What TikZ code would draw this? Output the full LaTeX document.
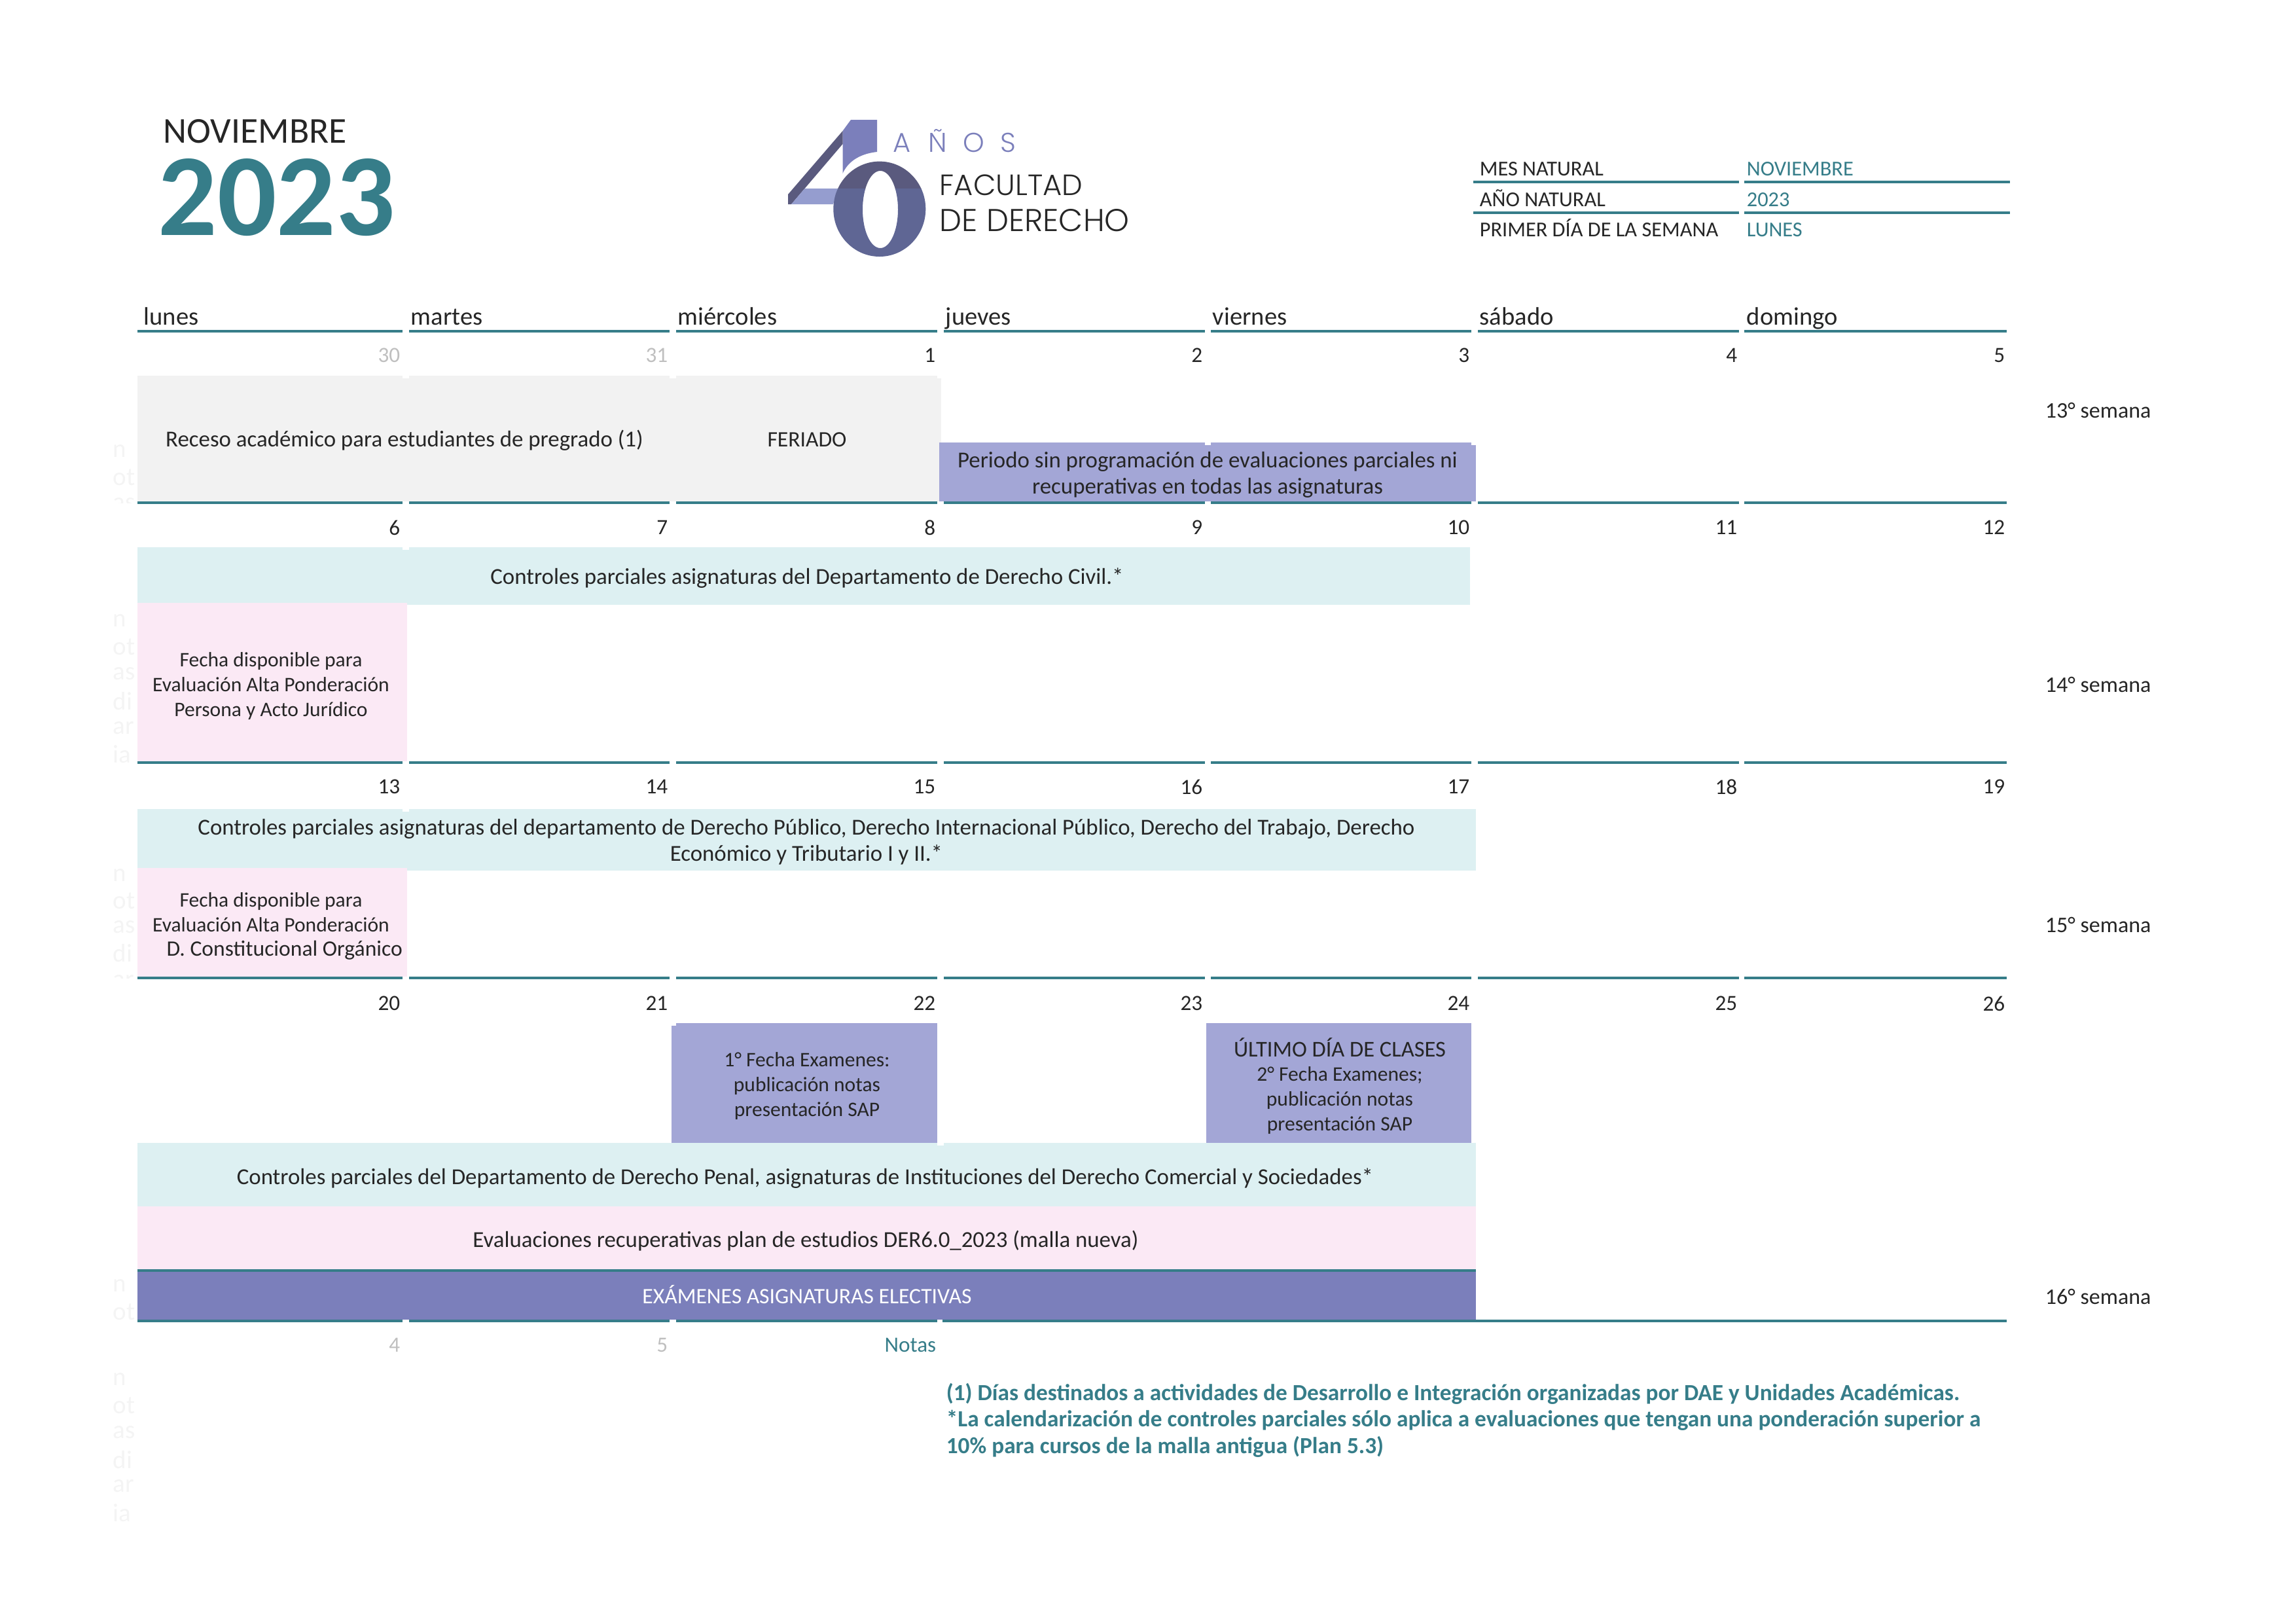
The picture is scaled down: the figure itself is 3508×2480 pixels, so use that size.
\documentclass[tikz,border=0pt]{standalone}
\usepackage{fontspec}
\setmainfont{Carlito}
\newfontfamily\logofont{Poppins}[UprightFont=* Light]
\usetikzlibrary{positioning}

\definecolor{tealcal}{HTML}{367D89}
\definecolor{grisband}{HTML}{F2F2F2}
\definecolor{lilaband}{HTML}{A3A6D6}
\definecolor{celesteband}{HTML}{DDF0F2}
\definecolor{rosaband}{HTML}{FBE9F5}
\definecolor{moradoband}{HTML}{7B7FBB}
\definecolor{textocal}{HTML}{262626}
\definecolor{numgris}{HTML}{BFBFBF}
\definecolor{fantasma}{HTML}{F4F4F4}
\definecolor{logooscuro}{HTML}{5A5A7E}
\definecolor{logomedio}{HTML}{5F6694}
\definecolor{logoclaro}{HTML}{959DCF}

\tikzset{
    regla/.style={line width=1pt,tealcal},
    base/.style={inner sep=0pt,text=textocal,font=\fontsize{8.4}{9.6}\selectfont},
    evento/.style={base,align=center},
    eventocaps/.style={base,align=center,font=\fontsize{8.1}{9.6}\selectfont},
    eventochico/.style={base,align=center,font=\fontsize{7.6}{9.1}\selectfont},
    diames/.style={base,anchor=east,font=\fontsize{8}{9}\selectfont},
    diagris/.style={diames,text=numgris},
    titulodia/.style={base,anchor=base west,font=\fontsize{9.3}{11}\selectfont},
    metadato/.style={base,anchor=base west,font=\fontsize{7.8}{9}\selectfont},
    metavalor/.style={metadato,text=tealcal},
    semana/.style={base,anchor=west,font=\fontsize{8.2}{9}\selectfont},
    nota/.style={base,anchor=west,text=tealcal,font=\fontsize{8.5}{9.6}\selectfont\bfseries},
    ghost/.style={base,anchor=west,text=fantasma,font=\fontsize{9.4}{9.6}\selectfont}
}

\newcommand{\reglafila}[1]{
    \foreach \xa/\xb in {210/615,625/1023,1033/1432,1442/1841,1850/2248,2258/2657,2665/3066}
        \draw[regla] (\xa,#1) -- (\xb,#1);
}
\newcommand{\muesca}[3]{\fill[white] (#1,#3) rectangle (#2,#3+4);}

\begin{document}
\begin{tikzpicture}[x=0.24bp,y=-0.24bp]

    \useasboundingbox (0,0) rectangle (3508,2480);

    % cabecera
    \node[base,anchor=base west,font=\fontsize{13.4}{16}\selectfont] (mes) at (249,218) {NOVIEMBRE};
    \node[base,anchor=base west,text=tealcal,font=\fontsize{43}{44}\selectfont\bfseries] (anio) at (241,359) {2023};

    % logo
    \fill[moradoband] (1300,183) -- (1340,183) -- (1340,232) .. controls (1312,235) and (1295,248) .. (1287.5,265) -- (1287.5,200) -- cycle;
    \fill[logooscuro] (1287.5,200) -- (1287.5,220) -- (1209,312) -- (1204,312) -- (1204,297) -- cycle;
    \fill[logoclaro] (1229.5,288) -- (1280,288) -- (1273,312) -- (1209,312) -- cycle;
    \begin{scope}
        \clip (1260,240) rectangle (1430,288);
        \fill[logooscuro,even odd rule] (1343.8,319.3) ellipse (70.5 and 72.7) (1345,320) ellipse (27 and 59);
    \end{scope}
    \begin{scope}
        \clip (1260,288) rectangle (1430,400);
        \fill[logomedio,even odd rule] (1343.8,319.3) ellipse (70.5 and 72.7) (1345,320) ellipse (27 and 59);
    \end{scope}
    \foreach \xl/\letra in {1378/A,1432.6/Ñ,1487.5/O,1540.6/S}
        \node[inner sep=0pt,anchor=base,text=moradoband,font=\logofont\fontsize{10}{10}\selectfont] (logo\letra) at (\xl,232) {\letra};
    \node[base,anchor=base west,font=\logofont\fontsize{10.8}{10}\selectfont] (facultad) at (1435,298) {FACULTAD};
    \node[base,anchor=base west,font=\logofont\fontsize{11.6}{10}\selectfont] (derecho) at (1435,353) {DE DERECHO};

    % datos del mes
    \node[metadato] (mesnat) at (2260,268) {MES NATURAL};
    \node[metavalor] (mesval) at (2668,268) {NOVIEMBRE};
    \node[metadato] (anionat) at (2260,315) {AÑO NATURAL};
    \node[metavalor] (anioval) at (2668,315) {2023};
    \node[metadato] (primer) at (2260,361) {PRIMER DÍA DE LA SEMANA};
    \node[metavalor] (primerval) at (2668,361) {LUNES};
    \draw[regla] (2251,278) -- (2657,278);
    \draw[regla] (2665,278) -- (3071,278);
    \draw[regla] (2251,325) -- (2657,325);
    \draw[regla] (2665,325) -- (3071,325);

    % texto tenue del margen
    \begin{scope}
        \clip (160,660) rectangle (210,768);
        \foreach \yy/\tx in {689/n,729/ot,770/as}
            \node[ghost] at (172,\yy) {\tx};
    \end{scope}
    \foreach \yy/\tx in {948/n,988/ot,1029/as,1071/di,1112/ar,1152/ia}
        \node[ghost] at (172,\yy) {\tx};
    \begin{scope}
        \clip (160,1310) rectangle (210,1494);
        \foreach \yy/\tx in {1337/n,1376/ot,1416/as,1456/di,1499/ar}
            \node[ghost] at (172,\yy) {\tx};
    \end{scope}
    \foreach \yy/\tx in {1964/n,2004/ot,2107/n,2147/ot,2188/as,2230/di,2270/ar,2311/ia}
        \node[ghost] at (172,\yy) {\tx};

    % bandas
    \fill[grisband] (210,574) rectangle (1438,766);
    \fill[lilaband] (1435,676) rectangle (2255,766);
    \fill[celesteband] (210,836) rectangle (2246,924);
    \fill[rosaband] (210,921) rectangle (622,1163);
    \fill[celesteband] (210,1236) rectangle (2255,1330);
    \fill[rosaband] (210,1326) rectangle (622,1492);
    \fill[lilaband] (1026,1563) rectangle (1432,1746);
    \fill[lilaband] (1843,1563) rectangle (2248,1746);
    \fill[celesteband] (210,1746) rectangle (2255,1843);
    \fill[rosaband] (210,1843) rectangle (2255,1940);
    \fill[moradoband] (210,1940) rectangle (2255,2016);

    % muescas
    \muesca{615}{625}{574}
    \muesca{1023}{1033}{574}
    \muesca{1432}{1438}{574}
    \muesca{1841}{1850}{676}
    \muesca{2248}{2255}{676}
    \muesca{615}{625}{836}
    \muesca{615}{625}{1236}
    \muesca{1026}{1033}{1563}
    \muesca{1432}{1442}{1746}

    % reglas
    \reglafila{506}
    \reglafila{768}
    \reglafila{1165}
    \reglafila{1494}
    \draw[regla] (210,1941) -- (2255,1941);
    \draw[regla] (210,2018) -- (615,2018);
    \draw[regla] (625,2018) -- (1023,2018);
    \draw[regla] (1033,2018) -- (1432,2018);
    \draw[regla] (1440,2018) -- (3066,2018);

    % dias de la semana
    \node[titulodia] (lunes) at (219,496) {lunes};
    \node[titulodia] (martes) at (627,496) {martes};
    \node[titulodia] (miercoles) at (1035,496) {miércoles};
    \node[titulodia] (jueves) at (1444,496) {jueves};
    \node[titulodia] (viernes) at (1852,496) {viernes};
    \node[titulodia] (sabado) at (2260,496) {sábado};
    \node[titulodia] (domingo) at (2668,496) {domingo};

    % numeros
    \node[diagris] (d30) at (612,543) {30};
    \node[diagris] (d31) at (1021,543) {31};
    \foreach \xx/\nn in {1430/1,1838/2,2246/3,2655/4,3064/5}
        \node[diames] (d\nn) at (\xx,543) {\nn};
    \foreach \xx/\nn in {612/6,1021/7,1430/8,1838/9,2246/10,2655/11,3064/12}
        \node[diames] (d\nn) at (\xx,806) {\nn};
    \foreach \xx/\nn in {612/13,1021/14,1430/15,1838/16,2246/17,2655/18,3064/19}
        \node[diames] (d\nn) at (\xx,1202) {\nn};
    \foreach \xx/\nn in {612/20,1021/21,1430/22,1838/23,2246/24,2655/25,3064/26}
        \node[diames] (d\nn) at (\xx,1533) {\nn};
    \node[diagris] (dic4) at (612,2055) {4};
    \node[diagris] (dic5) at (1021,2055) {5};
    \node[diames,text=tealcal] (notas) at (1431,2055) {Notas};

    % eventos
    \node[evento] (receso) at (618,673) {Receso académico para estudiantes de pregrado (1)};
    \node[eventocaps] (feriado) at (1233,672) {FERIADO};
    \node[evento] (periodo) at (1845,725) {Periodo sin programación de evaluaciones parciales ni\\recuperativas en todas las asignaturas};
    \node[evento] (civil) at (1233,883) {Controles parciales asignaturas del Departamento de Derecho Civil.*};
    \node[eventochico] (altauno) at (414,1048) {Fecha disponible para\\Evaluación Alta Ponderación\\Persona y Acto Jurídico};
    \node[evento] (publico) at (1232,1286) {Controles parciales asignaturas del departamento de Derecho Público, Derecho Internacional Público, Derecho del Trabajo, Derecho\\Económico y Tributario I y II.*};
    \node[eventochico] (altados) at (414,1415) {Fecha disponible para\\Evaluación Alta Ponderación\\\hspace*{10pt}{\fontsize{8.1}{9.1}\selectfont D. Constitucional Orgánico}};
    \node[eventochico] (fechauno) at (1233,1659) {1° Fecha Examenes:\\publicación notas\\presentación SAP};
    \node[eventochico] (fechados) at (2047,1659) {{\fontsize{8.3}{9.6}\selectfont ÚLTIMO DÍA DE CLASES}\\2° Fecha Examenes;\\publicación notas\\presentación SAP};
    \node[evento] (penal) at (1230,1800) {Controles parciales del Departamento de Derecho Penal, asignaturas de Instituciones del Derecho Comercial y Sociedades*};
    \node[evento] (recup) at (1231,1896) {Evaluaciones recuperativas plan de estudios DER6.0\_2023 (malla nueva)};
    \node[eventocaps,text=white] (electivas) at (1233,1978) {EXÁMENES ASIGNATURAS ELECTIVAS};

    % semanas
    \node[semana] (s13) at (3124,627) {13° semana};
    \node[semana] (s14) at (3124,1046) {14° semana};
    \node[semana] (s15) at (3124,1413) {15° semana};
    \node[semana] (s16) at (3124,1981) {16° semana};

    % notas al pie
    \node[nota] (notauno) at (1445,2129) {(1) Días destinados a actividades de Desarrollo e Integración organizadas por DAE y Unidades Académicas.};
    \node[nota] (notados) at (1445,2170) {*La calendarización de controles parciales sólo aplica a evaluaciones que tengan una ponderación superior a};
    \node[nota] (notatres) at (1445,2210) {10\% para cursos de la malla antigua (Plan 5.3)};

\end{tikzpicture}
\end{document}
